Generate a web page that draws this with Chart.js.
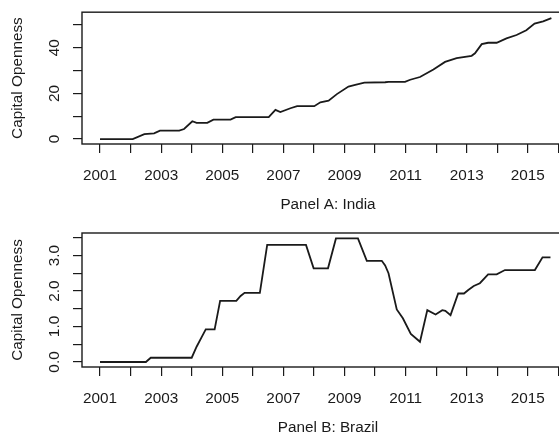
<!DOCTYPE html>
<html><head><meta charset="utf-8">
<script src="https://cdn.jsdelivr.net/npm/chart.js@4/dist/chart.umd.min.js"></script>
<style>
html,body{margin:0;padding:0;background:#fff;overflow:hidden;width:559px;height:434px;position:relative;}
.wrap{position:absolute;left:0;width:580px;}
#w1{top:0;height:217px;}
#w2{top:217px;height:230px;}
canvas{display:block}
</style></head><body>
<div class="wrap" id="w1"><canvas id="c1" width="580" height="217"></canvas></div>
<div class="wrap" id="w2"><canvas id="c2" width="580" height="230"></canvas></div>
<script>
// ---- Data ----
const indiaTime = [2001.0, 2002.07, 2002.45, 2002.77, 2002.96, 2003.59, 2003.75, 2004.02, 2004.16, 2004.51, 2004.71, 2005.27, 2005.44, 2006.52, 2006.74, 2006.9, 2007.23, 2007.45, 2008.01, 2008.21, 2008.48, 2008.75, 2009.13, 2009.35, 2009.65, 2010.33, 2010.44, 2010.98, 2011.15, 2011.47, 2011.91, 2012.29, 2012.67, 2013.16, 2013.27, 2013.49, 2013.70, 2013.98, 2014.30, 2014.63, 2014.95, 2015.22, 2015.50, 2015.77];
const indiaValue = [0, 0, 2.2, 2.5, 3.7, 3.7, 4.4, 7.8, 7.1, 7.1, 8.5, 8.5, 9.6, 9.6, 12.8, 11.8, 13.5, 14.4, 14.4, 16.1, 16.8, 19.7, 23.0, 23.7, 24.7, 24.9, 25.1, 25.1, 26.0, 27.2, 30.5, 33.8, 35.5, 36.5, 37.6, 41.6, 42.2, 42.2, 44.1, 45.6, 47.7, 50.6, 51.6, 53.0];

const brazilTime = [2001.0, 2002.5, 2002.66, 2004.0, 2004.16, 2004.33, 2004.46, 2004.75, 2004.93, 2005.46, 2005.6, 2005.73, 2006.23, 2006.47, 2007.74, 2007.99, 2008.46, 2008.72, 2009.44, 2009.73, 2010.22, 2010.33, 2010.44, 2010.71, 2010.91, 2011.17, 2011.47, 2011.71, 2011.98, 2012.20, 2012.30, 2012.47, 2012.72, 2012.91, 2013.05, 2013.23, 2013.43, 2013.70, 2013.98, 2014.25, 2015.23, 2015.48, 2015.74];
const brazilValue = [0, 0, 0.12, 0.12, 0.43, 0.71, 0.92, 0.92, 1.72, 1.72, 1.86, 1.95, 1.95, 3.30, 3.30, 2.64, 2.64, 3.48, 3.48, 2.85, 2.85, 2.72, 2.50, 1.48, 1.23, 0.79, 0.57, 1.46, 1.34, 1.46, 1.44, 1.32, 1.93, 1.93, 2.03, 2.14, 2.22, 2.47, 2.47, 2.59, 2.59, 2.95, 2.95];

const xTickYears = [2001, 2002, 2003, 2004, 2005, 2006, 2007, 2008, 2009, 2010, 2011, 2012, 2013, 2014, 2015, 2016];
const xLabelYears = [2001, 2003, 2005, 2007, 2009, 2011, 2013, 2015];

const indiaYTicks = [0, 10, 20, 30, 40, 50];
const indiaYLabelValues = [0, 20, 40];
const indiaYLabelTexts = ['0', '20', '40'];

const brazilYTicks = [0, 0.5, 1, 1.5, 2, 2.5, 3, 3.5];
const brazilYLabelValues = [0, 1, 2, 3];
const brazilYLabelTexts = ['0.0', '1.0', '2.0', '3.0'];

const yTitle = 'Capital Openness';
const titleIndia = 'Panel A: India';
const titleBrazil = 'Panel B: Brazil';

// ---- Styling ----
const FONT = {family: "'Liberation Sans', Arial, sans-serif", size: 15.3};
const INK = '#1a1a1a';

const boxPlugin = {
  id: 'rbox',
  afterDatasetsDraw(chart) {
    const {ctx, chartArea: a} = chart;
    ctx.save();
    ctx.strokeStyle = INK;
    ctx.lineWidth = 1.4;
    ctx.strokeRect(a.left, a.top, a.right - a.left, a.bottom - a.top);
    ctx.restore();
  },
  afterDraw(chart) {
    const o = chart.options.plugins.rbox;
    const ctx = chart.ctx;
    const ys = chart.scales.y;
    ctx.save();
    ctx.fillStyle = INK;
    ctx.font = FONT.size + 'px ' + FONT.family;
    ctx.textAlign = 'center';
    ctx.textBaseline = 'alphabetic';
    o.values.forEach((v, i) => {
      const py = ys.getPixelForValue(v);
      ctx.save();
      ctx.translate(o.baseX, py);
      ctx.rotate(-Math.PI / 2);
      ctx.fillText(o.texts[i], 0, 0);
      ctx.restore();
    });
    ctx.restore();
  }
};

function makeChart(id, time, values, yMin, yMax, yTicks, yLabVals, yLabTexts, xTitle, padTop, xHeight, titlePadBottom) {
  const data = time.map((t, i) => ({x: t, y: values[i]}));
  return new Chart(document.getElementById(id), {
    type: 'line',
    data: {datasets: [{data, borderColor: '#1a1a1a', borderWidth: 1.8, pointRadius: 0, fill: false, tension: 0}]},
    options: {
      responsive: false, animation: false, devicePixelRatio: 1,
      layout: {padding: {top: padTop, right: 6, left: 0, bottom: 0}},
      plugins: {legend: {display: false}, tooltip: {enabled: false},
        rbox: {values: yLabVals, texts: yLabTexts, baseX: 58.5}},
      scales: {
        x: {
          type: 'linear', min: 2000.41, max: 2016.51,
          afterBuildTicks: s => { s.ticks = xTickYears.map(v => ({value: v})); },
          afterFit: s => { s.height = xHeight; },
          ticks: {autoSkip: false, maxRotation: 0, minRotation: 0, padding: 14, color: INK, font: FONT,
            callback: v => xLabelYears.includes(v) ? String(v) : ''},
          grid: {drawOnChartArea: false, drawTicks: true, tickLength: 9, color: INK, lineWidth: 1.2},
          border: {display: false},
          title: {display: true, text: xTitle, color: INK, font: FONT, padding: {top: 0, bottom: titlePadBottom}}
        },
        y: {
          type: 'linear', min: yMin, max: yMax,
          afterBuildTicks: s => { s.ticks = yTicks.map(v => ({value: v})); },
          afterFit: s => { s.width = 82; },
          ticks: {autoSkip: false, color: INK, font: FONT, callback: () => ''},
          grid: {drawOnChartArea: false, drawTicks: true, tickLength: 9, color: INK, lineWidth: 1.2},
          border: {display: false},
          title: {display: true, text: yTitle, color: INK, font: FONT, padding: {top: 9, bottom: 0}}
        }
      }
    },
    plugins: [boxPlugin]
  });
}

makeChart('c1', indiaTime, indiaValue, -2.16, 55.6, indiaYTicks, indiaYLabelValues, indiaYLabelTexts, titleIndia, 10, 73, 3);
makeChart('c2', brazilTime, brazilValue, -0.141, 3.634, brazilYTicks, brazilYLabelValues, brazilYLabelTexts, titleBrazil, 16, 80, 10);
</script>
</body></html>
